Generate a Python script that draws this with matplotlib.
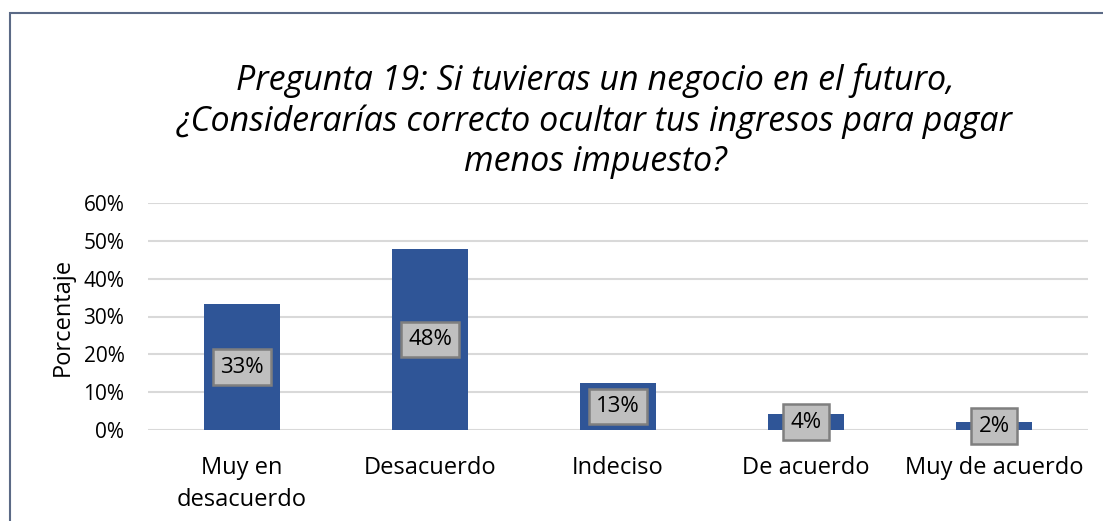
import matplotlib
matplotlib.use("Agg")
import matplotlib.pyplot as plt
from matplotlib.patches import Rectangle
from matplotlib.ticker import FuncFormatter

categories = ["Muy en\ndesacuerdo", "Desacuerdo", "Indeciso", "De acuerdo", "Muy de acuerdo"]
values = [33.3, 47.9, 12.5, 4.2, 2.1]
labels = ["33%", "48%", "13%", "4%", "2%"]
yticks = [0, 10, 20, 30, 40, 50, 60]

FONT = "Open Sans"
W, H = 1103, 521
fig = plt.figure(figsize=(W / 100, H / 100), dpi=100)

# outer border (only left/top visible in the crop)
fig.patches.append(Rectangle((10 / W, -0.1), 1.2, 1 - 13 / H + 0.1, transform=fig.transFigure,
                             fill=False, edgecolor="#5b6a86", linewidth=1.5, zorder=0))

ax = fig.add_axes([148 / W, 1 - 430 / H, (1088 - 148) / W, (430 - 203) / H])
x = list(range(len(categories)))
ax.bar(x, values, width=0.4, color="#2F5597", zorder=3)
ax.set_xlim(-0.5, len(categories) - 0.5)
ax.set_ylim(0, 60)
ax.set_yticks(yticks)
ax.yaxis.set_major_formatter(FuncFormatter(lambda v, p: f"{int(v)}%"))
ax.grid(axis="y", color="#d9d9d9", linewidth=1.5, zorder=0)
for s in ax.spines.values():
    s.set_visible(False)
ax.tick_params(length=0)
ax.set_xticks(x)
ax.set_xticklabels(categories, fontsize=17, family=FONT, linespacing=1.4)
ax.tick_params(axis="x", pad=19)
ax.tick_params(axis="y", pad=17)
for t in ax.get_yticklabels():
    t.set_fontsize(15)
    t.set_family(FONT)
ax.set_ylabel("Porcentaje", fontsize=17, family=FONT, va="center")
ax.yaxis.set_label_coords((63 - 148) / (1088 - 148), 0.5)

for xi, v, lab in zip(x, values, labels):
    ax.text(xi, v / 2, lab, ha="center", va="center", fontsize=16, family=FONT, zorder=5,
            bbox=dict(boxstyle="square,pad=0.33", facecolor="#bfbfbf", edgecolor="#7f7f7f", linewidth=1.8))

fig.text(595 / W, 1 - 121 / H,
         "Pregunta 19: Si tuvieras un negocio en el futuro,\n¿Considerarías correcto ocultar tus ingresos para pagar\nmenos impuesto?",
         ha="center", va="center", fontsize=24.5, family=FONT, style="italic", linespacing=1.24)

fig.savefig("out.png", dpi=100)
